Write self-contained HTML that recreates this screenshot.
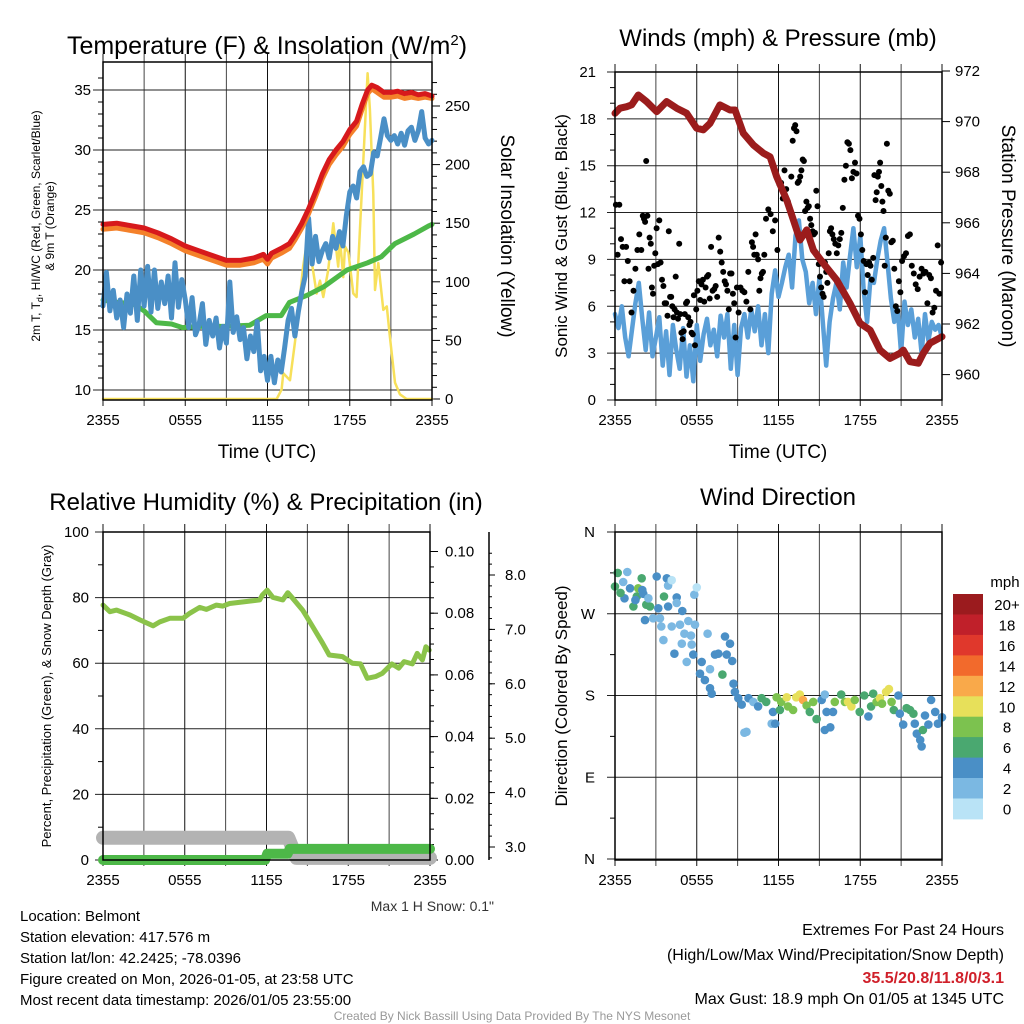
<!DOCTYPE html>
<html><head><meta charset="utf-8"><style>
html,body{margin:0;padding:0;background:#fff;}
svg{display:block;font-family:"Liberation Sans",Arial,sans-serif;}
</style></head><body>
<svg id="chart" width="1024" height="1024" viewBox="0 0 1024 1024" xmlns="http://www.w3.org/2000/svg">
<rect x="0" y="0" width="1024" height="1024" fill="#fff"/>
<text x="267" y="54" font-size="25" text-anchor="middle">Temperature (F) &amp; Insolation (W/m<tspan dy="-9" font-size="15">2</tspan><tspan dy="9">)</tspan></text>
<text x="778" y="46" font-size="24" text-anchor="middle">Winds (mph) &amp; Pressure (mb)</text>
<text x="266" y="510" font-size="24" text-anchor="middle">Relative Humidity (%) &amp; Precipitation (in)</text>
<text x="778" y="505" font-size="24" text-anchor="middle">Wind Direction</text>
<text x="267" y="458" font-size="19" text-anchor="middle">Time (UTC)</text>
<text x="778" y="458" font-size="19" text-anchor="middle">Time (UTC)</text>
<text transform="translate(40,226) rotate(-90)" font-size="12" text-anchor="middle">2m T, T<tspan dy="3" font-size="9">d</tspan><tspan dy="-3">, HI/WC (Red, Green, Scarlet/Blue)</tspan></text>
<text transform="translate(54,226) rotate(-90)" font-size="12" text-anchor="middle">&amp; 9m T (Orange)</text>
<text transform="translate(501,236) rotate(90)" font-size="19" text-anchor="middle">Solar Insolation (Yellow)</text>
<text transform="translate(567,236) rotate(-90)" font-size="17" text-anchor="middle">Sonic Wind &amp; Gust (Blue, Black)</text>
<text transform="translate(1002,236) rotate(90)" font-size="19" text-anchor="middle">Station Pressure (Maroon)</text>
<text transform="translate(51,696) rotate(-90)" font-size="13" text-anchor="middle">Percent, Precipitation (Green), &amp; Snow Depth (Gray)</text>
<text transform="translate(567,696) rotate(-90)" font-size="17" text-anchor="middle">Direction (Colored By Speed)</text>
<text x="494" y="911" font-size="14" fill="#333" text-anchor="end">Max 1 H Snow: 0.1"</text>
<g font-size="15">
<text x="20" y="921">Location: Belmont</text>
<text x="20" y="942">Station elevation: 417.576 m</text>
<text x="20" y="963">Station lat/lon: 42.2425; -78.0396</text>
<text x="20" y="984">Figure created on Mon, 2026-01-05, at 23:58 UTC</text>
<text x="20" y="1005">Most recent data timestamp: 2026/01/05 23:55:00</text>
</g>
<g font-size="16" text-anchor="end">
<text x="1004" y="935">Extremes For Past 24 Hours</text>
<text x="1004" y="960">(High/Low/Max Wind/Precipitation/Snow Depth)</text>
<text x="1004" y="983" fill="#d0202a" font-weight="bold">35.5/20.8/11.8/0/3.1</text>
<text x="1004" y="1004">Max Gust: 18.9 mph On 01/05 at 1345 UTC</text>
</g>
<text x="512" y="1020" font-size="12" fill="#999" text-anchor="middle">Created By Nick Bassill Using Data Provided By The NYS Mesonet</text>
<g id="layer"></g>
</svg>
<script>
// ---------- DATA ----------
var timeTicks = ["2355","0555","1155","1755","2355"];
// Panel 1
var tempHours = [0,1,2,3,4,5,6,7,8,9,10,11,11.7,12,12.3,13,13.6,14,14.5,15,15.5,16,16.5,17,17.5,18,18.5,18.9,19.3,19.6,20,20.5,21,21.5,22,22.5,23,23.5,24];
var tempRed = [23.8,23.9,23.7,23.5,23.1,22.6,22.0,21.6,21.2,20.8,20.8,21.0,21.3,20.9,21.4,21.8,22.2,22.9,23.9,25.1,26.5,28.0,29.2,30.0,30.7,31.7,32.4,33.8,35.0,35.4,35.2,34.8,34.8,34.9,34.7,34.8,34.6,34.7,34.5];
var tempOrange = [23.4,23.5,23.3,23.1,22.7,22.2,21.6,21.2,20.8,20.4,20.4,20.6,20.9,20.5,21.0,21.4,21.8,22.5,23.5,24.7,26.1,27.6,28.8,29.6,30.3,31.3,32.0,33.4,34.7,35.1,34.8,34.4,34.4,34.5,34.3,34.4,34.3,34.4,34.3];
var dewHours = [0,1,2.2,3,3.9,5,5.8,7,8.8,10.7,11.9,13,13.6,14.9,16.1,17.8,19.3,20.3,21.3,22.7,23.8,24];
var dewPoint = [17.5,17.3,17.2,16.6,15.6,15.5,15.2,15.3,15.3,15.4,16.2,16.2,17.3,17.9,18.6,20.0,20.6,21.1,22.2,23.0,23.7,23.8];
var heatIndex = [17.0,19.8,16.6,18.3,16.0,17.5,15.2,18.0,16.4,19.5,15.8,20.0,17.0,20.3,16.5,20.0,16.8,19.0,17.2,19.5,16.0,20.6,16.9,19.2,17.5,15.2,17.7,14.6,15.4,17.2,13.8,15.8,14.5,16.0,13.5,15.3,13.9,19.0,14.8,16.1,14.2,15.2,12.6,14.5,13.2,15.7,11.6,12.8,10.8,12.8,10.6,12.5,11.5,13.5,15.8,16.8,14.5,16.5,18.2,19.5,24.3,20.5,22.8,20.7,21.6,22.2,21.0,22.8,21.8,23.2,22.0,24.5,26.5,27.0,26.0,28.2,28.6,27.8,28.0,29.8,29.5,31.0,32.6,31.2,30.8,31.2,30.5,31.4,30.4,31.6,31.9,30.8,31.6,33.2,31.0,30.5,30.8];
var solarHours = [0,12.67,13.03,13.15,13.64,14.0,14.25,14.6,14.98,15.22,15.58,15.83,16.07,16.43,16.8,17.16,17.29,17.53,17.65,17.9,18.26,18.5,18.87,19.11,19.3,19.47,19.72,19.84,20.08,20.45,20.7,20.93,21.3,21.66,22.15,24];
var solarVals = [0,0,8,22,16,48,73,113,142,118,90,101,87,110,150,113,136,104,130,125,90,87,175,233,278,247,175,93,116,76,79,53,14,4,0,0];
var tempTicks = [10,15,20,25,30,35];
var solarTicks = [0,50,100,150,200,250];
// Panel 2
var windSpeed = [5.5,4.6,6.0,4.0,2.8,4.5,6.2,7.5,5.2,3.2,5.6,2.8,4.0,5.3,2.2,4.4,1.6,4.8,3.2,2.0,4.6,1.5,3.5,1.2,4.8,2.5,4.2,5.2,3.5,4.5,2.8,5.4,4.0,5.5,2.0,4.8,1.6,4.6,5.5,4.0,5.8,4.4,6.0,3.5,5.5,3.0,6.8,8.3,6.6,7.5,8.5,9.3,7.2,10.5,11.5,9.0,8.2,6.2,7.5,5.5,7.8,5.0,2.2,5.0,6.5,7.5,5.8,8.8,7.2,9.2,11.0,8.5,10.5,7.0,5.0,7.8,7.5,9.0,10.2,11.0,8.8,6.5,5.0,5.8,3.0,6.3,4.8,5.8,4.0,5.2,3.0,5.5,3.8,5.0,4.5,4.8,4.0];
var gustByHour = [
[12.5,9.3,12.5,10.3,9.8,7.6,9.8,8.9],[7.6,5.6,7,8.4,9.6,10.6,9.6],[11.8,11.6,11.4,15.3,11.8,8.4,10.4,10,7.2,6.8,8.6,9.4],
[11,8.7,11.5,8.8,7.7,7.3,6.2,6.2,5.4,10.8],[6.6,6.6,6,5.3,5.8,7.9,5.6,5.2,10,5.5,4.3,3.9],[4.4,5.5,6.2,6.3,5.3,4.8,5,4.3,4.2,6.7,3.5,5.8],
[7,7.6,6.4,7.4,7.7,6.3,7.2,7.9,8,6.5],[9.8,7,7.1,7.3,6.6,10.4,9.5,8.8,8.2],[7.6,7.4,7,5.8,8.1,8.1,6.8,6.2,4,7.2],
[5.6,7.2,7,6.9,6.3,8.2,5.8],[10.1,9.8,9.3,10.6,9.3,9,7,7.8,8.1,8.2,9.3],[11.6,12.2,11.9,10.8,11.5,9.6],
[13.8,13.9,12.9,14.7,13.5,12.7,12.2,14.3],[16.6,17.4,17.6,17.2,13.9,14,14.3,14.7,15.4,15.3,12.1],[12.7,12.3,12.4,11.6,11.2,10.8,10.6,10.7,13.4,12.4,8.7],
[7.9,7.2,6.8,6.6,8.8,8.2,7.5,9.4,10.8,11,10.6],[10.3,10,9.4,9.9,10.3,10.7,12.3,14.1,15],[16.5,16.4,16,14.2,14.6,15.2,14.5,11.8,11.6],
[10.6,9.6,8.9,6.9,8.7,8,8.8,8.6,7.7,9.1],[14.4,12.8,13.3,14.3,14.6,15.2,13.7,12.7,12.1,8.6,10.4,16.4],[13.4,13.2,10.1,10.2,8.4,6,5.7,7.6,6.9],
[8.9,9.2,9.4,10.5,10.6,8.6,8.1],[7.4,7.1,7.9,8.4,8.1,8.2,6.2],[8,7.8,5.6,5.9,7,9.9,6.8,8.8]];
var presHours = [0,0.37,0.86,1.22,1.71,2.32,3.06,3.79,4.53,5.26,5.99,6.48,6.97,7.7,8.44,8.81,9.42,10.15,10.89,11.38,11.87,12.6,13.09,13.58,14.07,14.56,15.29,16.27,17.25,17.98,18.72,19.45,20.18,20.92,21.16,21.65,22.26,22.63,23.12,24];
var presVals = [970.33,970.53,970.59,970.66,971.05,970.79,970.39,970.79,970.53,970.33,969.74,969.67,969.93,970.66,970.46,970.46,969.54,969.08,968.75,968.61,967.82,966.9,966.11,965.32,965.72,964.92,964.4,963.74,962.82,962.03,961.76,960.97,960.64,960.84,960.97,960.51,960.45,960.84,961.24,961.5];
var windTicks = [0,3,6,9,12,15,18,21];
var presTicks = [960,962,964,966,968,970,972];
// Panel 3
var rhHours = [0,0.51,1,1.98,2.71,3.68,4.17,4.9,5.88,6.36,7.1,7.58,8.32,8.8,9.29,10.3,11.5,11.7,12.05,12.46,13.2,13.56,13.92,14.65,15.38,16.12,16.6,17.58,18.3,18.9,19.4,20,20.5,21.2,21.7,22.1,22.7,23.06,23.44,23.7,23.94];
var rhVals = [77.7,75.7,76.2,74.7,73.2,71.4,72.6,73.7,73.7,75.2,77,76.4,77.7,77.4,78.2,78.7,79.3,80.8,82.3,80.1,79.3,81.5,79.8,76.2,71.2,66.1,62.5,62,60,59.8,55.4,55.9,56.9,59.8,58.5,60.5,59.8,63,61,65,64];
var precipHours = [0,11.9,12.05,13.55,13.7,24];
var precipVals = [0,0,0.002,0.002,0.0036,0.0036];
var snowHours = [0,13.6,14.2,24];
var snowVals = [3.17,3.17,2.8,2.8];
var rhTicks = [0,20,40,60,80,100];
var precipTicks = ["0.00","0.02","0.04","0.06","0.08","0.10"];
var snowTicks = ["3.0","4.0","5.0","6.0","7.0","8.0"];
// Panel 4
var dirHours = [0,0.2,0.6,0.9,0.7,1.1,1.35,1.6,1.7,1.96,2.08,2.3,2.57,2.45,2.2,2.8,3.06,3.18,3.3,3.4,3.6,3.55,3.8,3.9,3.9,4.16,4.16,4.36,4.53,4.53,4.77,4.94,4.9,5.09,5.26,5.38,5.58,5.63,5.75,5.82,6.0,5.87,6.36,6.24,6.6,6.8,6.97,7.1,6.97,7.34,7.58,7.88,8.07,8.2,8.44,8.6,8.7,8.8,9.05,9.3,9.65,9.8,10.15,10.5,10.76,11.1,11.5,11.76,11.6,11.86,12.1,12.2,12.6,12.7,13.07,13.3,13.56,13.8,14.06,14.3,14.55,14.8,15.17,15.4,15.53,15.4,15.8,16.0,16.13,16.6,16.87,17.1,17.35,17.6,17.96,18.3,18.6,18.8,18.95,19.2,19.45,19.6,19.9,20.1,20.3,20.46,20.8,20.9,21.15,21.4,21.65,21.9,22.0,22.15,22.4,22.5,22.6,22.75,23.0,23.2,23.5,23.7,24,0.4,1.5,2.0,9.5];
var dirDeg = [300,315,305,316,287,298,278,289,298,309,292,280,278,287,263,265,311,276,265,256,289,241,309,301,278,307,256,226,288,282,258,273,237,248,217,262,246,236,225,291,299,258,217,204,197,248,209,182,188,225,226,203,245,225,237,218,193,184,177,170,140,177,173,168,177,173,149,149,162,178,164,173,178,168,164,178,181,175,169,162,173,154,175,181,162,142,145,162,173,181,173,173,168,175,162,180,157,168,182,173,177,171,184,187,173,164,180,160,148,166,164,160,149,138,131,124,142,158,148,175,162,149,156,293,285,296,139];
var dirSpeed = [7,7,3,3,5,5,7,7,9,7,5,7,7,3,5,3,5,5,3,3,7,3,5,3,5,1,3,5,5,3,3,5,3,3,3,3,3,3,5,3,1,3,5,5,5,3,3,5,5,5,5,7,5,5,5,5,5,5,5,5,3,5,3,5,7,7,3,5,5,9,7,9,11,9,9,11,11,13,9,7,9,7,5,3,5,5,5,5,9,7,9,11,11,9,7,7,5,7,7,9,11,9,11,11,9,7,5,5,5,7,7,7,5,5,5,5,7,5,5,5,5,5,5,7,5,5,3];
var speedBins = ["0","2","4","6","8","10","12","14","16","18","20+"];
var binColors = ["#b9e3f6","#7bb8e2","#4a8fc6","#4aa870","#7cc24f","#e7e05a","#f9a94a","#f26a2c","#e0382c","#c0202a","#9b1b1e"];
var dirTicks = ["N","E","S","W","N"];

// ---------- DRAW ----------
var NS = "http://www.w3.org/2000/svg";
var layer = document.getElementById('layer');
function mk(tag, attrs, parent) {
  var e = document.createElementNS(NS, tag);
  for (var k in attrs) e.setAttribute(k, attrs[k]);
  (parent || layer).appendChild(e);
  return e;
}
function txt(x, y, s, size, anchor, parent) {
  var t = mk('text', {x: x, y: y, 'font-size': size, 'text-anchor': anchor}, parent);
  t.textContent = s;
  return t;
}
function linePath(xs, ys, sx, sy) {
  var d = '';
  for (var i = 0; i < xs.length; i++) d += (i ? 'L' : 'M') + sx(xs[i]).toFixed(1) + ',' + sy(ys[i]).toFixed(1);
  return d;
}
function seriesLine(name, xs, ys, sx, sy, color, w, parent) {
  var p = mk('path', {d: linePath(xs, ys, sx, sy), fill: 'none', stroke: color, 'stroke-width': w, 'stroke-linejoin': 'round', 'stroke-linecap': 'round'}, parent);
  
  
  return p;
}
function frame(name, L, T, R, B) {
  var g = mk('g', {});
  
  
  var sx = function (h) { return L + h / 24 * (R - L); };
  for (var i = 0; i <= 8; i++) {
    var x = sx(i * 3);
    mk('line', {x1: x, y1: T - 8, x2: x, y2: B + 6, stroke: (i % 2 ? '#444' : '#111'), 'stroke-width': 1}, g);
  }
  for (var j = 0; j < timeTicks.length; j++) {
    var tl = txt(sx(j * 6), B + 25, timeTicks[j], 15, 'middle', g);
    
    
  }
  return {g: g, sx: sx};
}
function border(g, L, T, R, B) {
  mk('rect', {x: L, y: T, width: R - L, height: B - T, fill: 'none', stroke: '#000', 'stroke-width': 1.5}, g);
}
function hgrid(g, L, R, y) { mk('line', {x1: L, y1: y, x2: R, y2: y, stroke: '#222', 'stroke-width': 1}, g); }

// ===== Panel 1 =====
(function () {
  var L = 103, T = 62, R = 432, B = 400;
  var f = frame('temperature-panel', L, T, R, B), g = f.g, sx = f.sx;
  var sy = function (v) { return 390 - (v - 10) * 12; };
  var sy2 = function (s) { return 399 - s * 1.172; };
  for (var i = 0; i < tempTicks.length; i++) {
    var y = sy(tempTicks[i]);
    hgrid(g, L - 10, R, y);
    var t = txt(L - 12, y + 5, String(tempTicks[i]), 15, 'end', g);
    
    
  }
  for (var v = 11; v <= 36; v++) if (v % 5) mk('line', {x1: L - 5, y1: sy(v), x2: L, y2: sy(v), stroke: '#000'}, g);
  for (var k = 0; k < solarTicks.length; k++) {
    var y2 = sy2(solarTicks[k]);
    mk('line', {x1: R, y1: y2, x2: R + 8, y2: y2, stroke: '#000'}, g);
    var t2 = txt(R + 13, y2 + 5, String(solarTicks[k]), 15, 'start', g);
    
    
  }
  for (var s = 10; s <= 270; s += 10) if (s % 50) mk('line', {x1: R, y1: sy2(s), x2: R + 5, y2: sy2(s), stroke: '#000'}, g);
  seriesLine('solar-insolation-line', solarHours, solarVals, sx, sy2, '#f7e05a', 2.5, g);
  seriesLine('dewpoint-line', dewHours, dewPoint, sx, sy, '#4db848', 5, g);
  var hiH = heatIndex.map(function (_, i) { return i * 0.25; });
  seriesLine('heat-index-line', hiH, heatIndex, sx, sy, '#4a8fc6', 5, g);
  seriesLine('temp-9m-line', tempHours, tempOrange, sx, sy, '#f4812a', 5, g);
  seriesLine('temp-2m-line', tempHours, tempRed, sx, sy, '#d7191c', 5, g);
  border(g, L, T, R, B);
})();

// ===== Panel 2 =====
(function () {
  var L = 615, T = 72, R = 942, B = 400;
  var f = frame('wind-panel', L, T, R, B), g = f.g, sx = f.sx;
  var sy = function (w) { return 400 - w * 15.62; };
  var sp = function (p) { return 71 + (972 - p) * 25.3; };
  for (var i = 0; i < windTicks.length; i++) {
    var y = sy(windTicks[i]);
    hgrid(g, L - 8, R, y);
    var t = txt(L - 19, y + 5, String(windTicks[i]), 15, 'end', g);
    
    
  }
  for (var v = 1; v < 21; v++) if (v % 3) mk('line', {x1: L - 5, y1: sy(v), x2: L, y2: sy(v), stroke: '#000'}, g);
  for (var k = 0; k < presTicks.length; k++) {
    var y2 = sp(presTicks[k]);
    mk('line', {x1: R, y1: y2, x2: R + 8, y2: y2, stroke: '#000'}, g);
    var t2 = txt(R + 13, y2 + 5, String(presTicks[k]), 15, 'start', g);
    
    
  }
  var wh = windSpeed.map(function (_, i) { return i * 0.25; });
  seriesLine('wind-speed-line', wh, windSpeed, sx, sy, '#5a9fd8', 4.5, g);
  for (var h = 0; h < gustByHour.length; h++) {
    var arr = gustByHour[h];
    for (var j = 0; j < arr.length; j++) {
      var c = mk('circle', {cx: sx(h + (j + 0.5) / arr.length).toFixed(1), cy: sy(arr[j]).toFixed(1), r: 3, fill: '#000'}, g);
      
      
    }
  }
  seriesLine('pressure-line', presHours, presVals, sx, sp, '#9b1c1c', 7, g);
  border(g, L, T, R, B);
})();

// ===== Panel 3 =====
(function () {
  var L = 103, T = 532, R = 430, B = 860;
  var f = frame('humidity-panel', L, T, R, B), g = f.g, sx = f.sx;
  var sy = function (v) { return 860 - v * 3.28; };
  var spc = function (p) { return 860 - p * 3085; };
  var ssn = function (s) { return 847 - (s - 3) * 54.4; };
  for (var i = 0; i < rhTicks.length; i++) {
    var y = sy(rhTicks[i]);
    hgrid(g, L - 8, R, y);
    var t = txt(L - 14, y + 5, String(rhTicks[i]), 15, 'end', g);
    
    
  }
  for (var v = 10; v < 100; v += 20) mk('line', {x1: L - 5, y1: sy(v), x2: L, y2: sy(v), stroke: '#000'}, g);
  for (var k = 0; k < precipTicks.length; k++) {
    var y2 = spc(parseFloat(precipTicks[k]));
    mk('line', {x1: R, y1: y2, x2: R + 8, y2: y2, stroke: '#000'}, g);
    var t2 = txt(R + 15, y2 + 5, precipTicks[k], 15, 'start', g);
    
    
  }
  for (var m = 0.005; m < 0.105; m += 0.005) mk('line', {x1: R, y1: spc(m), x2: R + 4, y2: spc(m), stroke: '#000'}, g);
  var ax = 489;
  mk('line', {x1: ax, y1: 532, x2: ax, y2: 860, stroke: '#000', 'stroke-width': 1.5}, g);
  for (var s = 0; s < snowTicks.length; s++) {
    var y3 = ssn(parseFloat(snowTicks[s]));
    mk('line', {x1: ax, y1: y3, x2: ax + 6, y2: y3, stroke: '#000'}, g);
    var t3 = txt(ax + 16, y3 + 5, snowTicks[s], 15, 'start', g);
    
    
  }
  for (var n = 2.8; n < 8.6; n += 0.2) mk('line', {x1: ax, y1: ssn(n), x2: ax + 3, y2: ssn(n), stroke: '#000'}, g);
  seriesLine('snow-depth-line', snowHours, snowVals, sx, ssn, '#b3b3b3', 14, g);
  seriesLine('precip-line', precipHours, precipVals, sx, spc, '#4db848', 10, g);
  seriesLine('rh-line', rhHours, rhVals, sx, sy, '#8bc34a', 5, g);
  border(g, L, T, R, B);
})();

// ===== Panel 4 =====
(function () {
  var L = 615, T = 532, R = 942, B = 860;
  var f = frame('direction-panel', L, T, R, B), g = f.g, sx = f.sx;
  var sd = function (d) { return 859 - d * 0.9083; };
  for (var i = 0; i < dirTicks.length; i++) {
    var y = sd(i * 90);
    hgrid(g, L - 8, R, y);
    var t = txt(L - 20, y + 5, dirTicks[i], 15, 'end', g);
    
    
  }
  for (var m = 45; m < 360; m += 90) mk('line', {x1: L - 5, y1: sd(m), x2: L, y2: sd(m), stroke: '#000'}, g);
  for (var j = 0; j < dirHours.length; j++) {
    var bi = Math.min(10, Math.floor(dirSpeed[j] / 2));
    var c = mk('circle', {cx: sx(dirHours[j]).toFixed(1), cy: sd(dirDeg[j]).toFixed(1), r: 4.3, fill: binColors[bi]}, g);
    
    
  }
  border(g, L, T, R, B);
  var cb = mk('g', {});
  
  
  var ct = txt(1005, 587, 'mph', 15, 'middle', cb);
  
  
  var bh = 20.45;
  for (var b = 0; b < speedBins.length; b++) {
    var idx = speedBins.length - 1 - b;
    var yy = 594 + b * bh;
    var r = mk('rect', {x: 953, y: yy.toFixed(1), width: 30, height: (bh + 0.5).toFixed(1), fill: binColors[idx]}, cb);
    
    
    var lt = txt(1007, yy + 16, speedBins[idx], 15, 'middle', cb);
    
    
  }
})();
</script>
</body></html>
